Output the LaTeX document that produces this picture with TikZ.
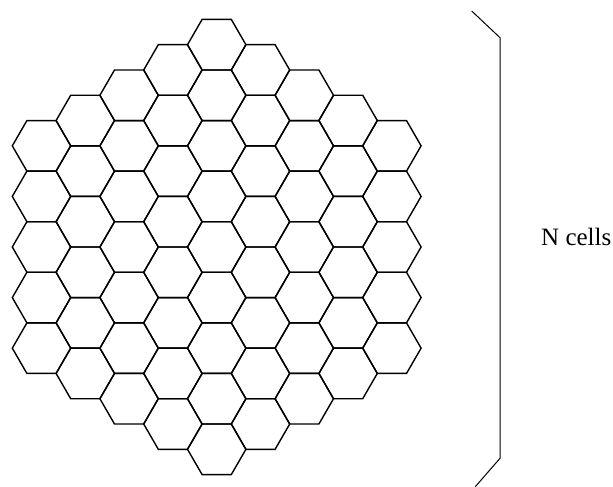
\documentclass[tikz,border=0pt]{standalone}
\usepackage{fontspec}
\setmainfont{Liberation Serif}
\begin{document}
\begin{tikzpicture}[x=1pt,y=-1pt,
  cell/.style={draw=black,line width=1.4pt,line join=miter},
  brace/.style={draw=black,line width=1pt},
  lbl/.style={font=\fontsize{25}{29}\selectfont,inner sep=0pt}]
\useasboundingbox (0,0) rectangle (613,487);
\def\ra{29.2}
\def\cx{216.7}
\def\cy{247}
\foreach \q in {-4,...,4}{
  \foreach \r in {-4,...,4}{
    \pgfmathtruncatemacro\s{abs(\q+\r)}
    \ifnum\s<5
      \pgfmathsetmacro\px{\cx+1.5*\ra*\q}
      \pgfmathsetmacro\py{\cy+1.7320508*\ra*(\r+0.5*\q)}
      \draw[cell,shift={(\px,\py)}] (0:\ra pt) -- (60:\ra pt) -- (120:\ra pt) -- (180:\ra pt) -- (240:\ra pt) -- (300:\ra pt) -- cycle;
    \fi
  }
}
\coordinate (b1) at (471.7,11);
\coordinate (b2) at (500,37.7);
\coordinate (b3) at (500,458.3);
\coordinate (b4) at (475.3,486.7);
\draw[brace] (b1) -- (b2) -- (b3) -- (b4);
\node[lbl,anchor=base west] (ncells) at (541,245) {N cells};
\end{tikzpicture}
\end{document}
